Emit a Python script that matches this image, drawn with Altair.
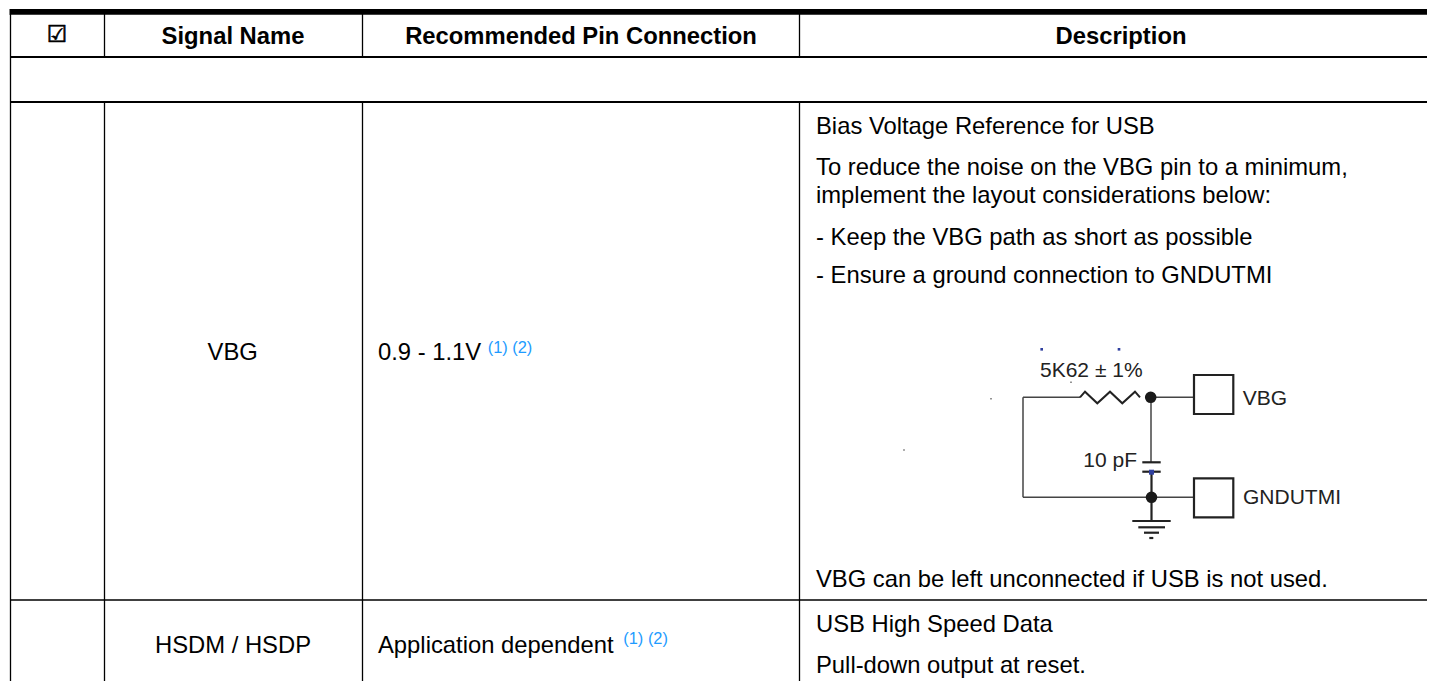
import altair as alt
import pandas as pd

X = alt.Scale(domain=[8, 1427], range=[0, 1419])
Y = alt.Scale(domain=[8, 681], range=[0, 673])
FONT = "Liberation Sans"

# table rules: x1, y1, x2, y2
thick_bar = [(9.5, 11.8, 1435, 11.8)]
h_lines = [(10, 57, 1435, 57), (10, 102, 1435, 102)]
row_lines = [(10, 600, 1435, 600)]
v_lines = [(10.5, 14, 10.5, 681), (104.5, 14, 104.5, 57), (104.5, 102, 104.5, 681),
           (362.5, 14, 362.5, 57), (362.5, 102, 362.5, 681),
           (799.5, 14, 799.5, 57), (799.5, 102, 799.5, 681)]

# circuit wires
thin_wires = [(1023, 397.3, 1080, 397.3), (1151, 397.3, 1194, 397.3), (1151, 397.3, 1151, 462),
              (1023, 397.3, 1023, 497.3), (1023, 497.3, 1194, 497.3)]
thick_wires = [(1151.5, 472, 1151.5, 521), (1132.3, 521, 1170.7, 521), (1138.3, 527.3, 1165, 527.3),
               (1144, 532.7, 1159, 532.7), (1149.3, 538, 1153.3, 538),
               (1142.3, 462.3, 1160.7, 462.3), (1142.3, 471.7, 1160.7, 471.7)]
boxes = [(1194, 375, 1233.3, 414), (1194, 478.3, 1233.3, 517.3)]
zigzag_x = [1080, 1085, 1097.3, 1110, 1122.3, 1135, 1140]
zigzag_y = [397.3, 391.7, 403.3, 391.7, 403.3, 391.7, 397.3]
dots_x = [1150.7, 1151.5]
dots_y = [397.3, 497.3]
blue_x = [1151.5, 1041.7, 1119]
blue_y = [472.2, 349.3, 349.3]
blue_s = [25, 7, 7]
speck_x = [1071, 991, 904]
speck_y = [382.3, 398.7, 450]

header_text = [(57, 34.5, "☑"), (233, 37, "Signal Name"), (581, 37, "Recommended Pin Connection"), (1121, 37, "Description")]
center_text = [(232.7, 353.4, "VBG"), (233, 646.4, "HSDM / HSDP")]
left_text = [(378, 353.4, "0.9 - 1.1V"), (378, 646.1, "Application dependent"),
             (816, 127.4, "Bias Voltage Reference for USB"),
             (816, 168.4, "To reduce the noise on the VBG pin to a minimum,"),
             (816, 196.4, "implement the layout considerations below:"),
             (816, 238.4, "- Keep the VBG path as short as possible"),
             (816, 276.4, "- Ensure a ground connection to GNDUTMI"),
             (816, 580.4, "VBG can be left unconnected if USB is not used."),
             (816, 625.4, "USB High Speed Data"),
             (816, 666.4, "Pull-down output at reset.")]
sup_text = [(487.7, 348, "(1) (2)"), (623.3, 639, "(1) (2)")]
fig_text = [(1040, 370.5, "5K62 ± 1%"), (1242.7, 398.5, "VBG"), (1083.3, 461.2, "10 pF"), (1243, 497.9, "GNDUTMI")]

ex = alt.X("x:Q", scale=X, axis=None)
ey = alt.Y("y:Q", scale=Y, axis=None)


def segs(rows, width, color="#000000"):
    df = pd.DataFrame(rows, columns=["x", "y", "x2", "y2"])
    return alt.Chart(df).mark_rule(strokeWidth=width, color=color).encode(x=ex, y=ey, x2="x2:Q", y2="y2:Q")


def txt(rows, size, align="left", color="#000000", weight="normal", font=FONT):
    df = pd.DataFrame(rows, columns=["x", "y", "t"])
    return alt.Chart(df).mark_text(font=font, fontSize=size, align=align, baseline="middle",
                                   color=color, fontWeight=weight).encode(x=ex, y=ey, text="t:N")


box_df = pd.DataFrame(boxes, columns=["x", "y", "x2", "y2"])
box_layer = alt.Chart(box_df).mark_rect(fill="white", stroke="#222222", strokeWidth=2.2).encode(
    x=ex, y=ey, x2="x2:Q", y2="y2:Q")
zig_layer = alt.Chart(pd.DataFrame({"x": zigzag_x, "y": zigzag_y, "o": range(len(zigzag_x))})).mark_line(
    color="#222222", strokeWidth=2).encode(x=ex, y=ey, order="o:Q")
dot_layer = alt.Chart(pd.DataFrame({"x": dots_x, "y": dots_y})).mark_point(
    shape="circle", filled=True, size=135, color="#1a1a1a", opacity=1).encode(x=ex, y=ey)
blue_layer = alt.Chart(pd.DataFrame({"x": blue_x, "y": blue_y, "s": blue_s})).mark_point(
    shape="square", filled=True, color="#2f3f9f", opacity=1).encode(
    x=ex, y=ey, size=alt.Size("s:Q", scale=None, legend=None))
speck_layer = alt.Chart(pd.DataFrame({"x": speck_x, "y": speck_y})).mark_point(
    shape="square", filled=True, size=2, color="#666666", opacity=1).encode(x=ex, y=ey)
check_layer = alt.Chart(pd.DataFrame(header_text[:1], columns=["x", "y", "t"])).mark_text(
    font="DejaVu Sans", fontSize=23, align="center", baseline="middle", color="#000000",
    stroke="#000000", strokeWidth=0.7).encode(x=ex, y=ey, text="t:N")

chart = alt.layer(
    segs(thick_bar, 5.7),
    segs(h_lines, 2),
    segs(row_lines, 1.5),
    segs(v_lines, 1.3),
    segs(thin_wires, 1.5, "#444444"),
    segs(thick_wires, 2.2, "#222222"),
    zig_layer, box_layer, dot_layer, blue_layer, speck_layer,
    check_layer,
    txt(header_text[1:], 23.8, "center", weight="bold"),
    txt(center_text, 23.8, "center"),
    txt(left_text, 23.8),
    txt(sup_text, 16.4, color="#1e9bff"),
    txt(fig_text, 21, color="#222222"),
).properties(width=1419, height=673, padding=0, background="white",
             autosize=alt.AutoSizeParams(type="none")).configure_view(stroke=None)

chart.save("out.html", embed_options={"renderer": "svg", "actions": False})
